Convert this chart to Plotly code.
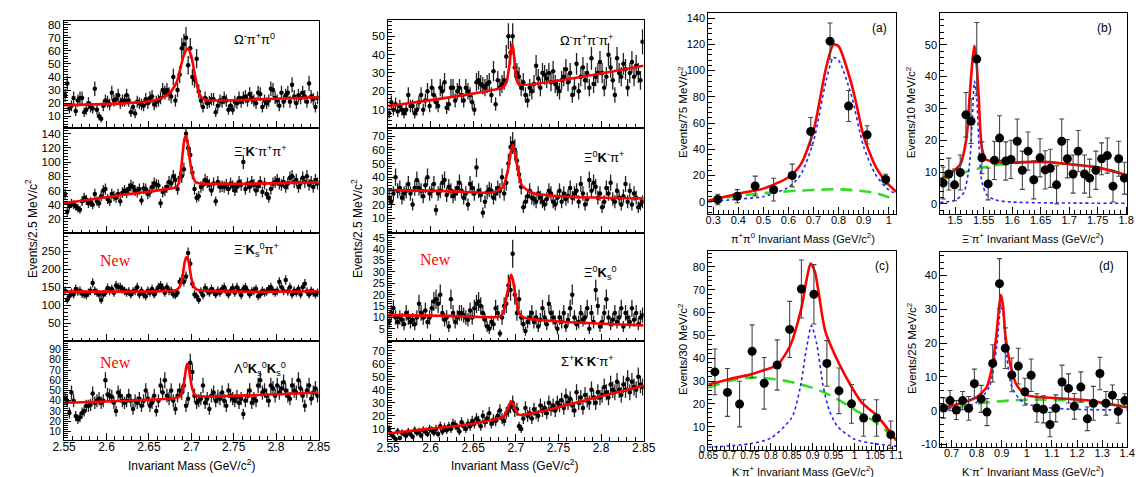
import numpy as np
import plotly.graph_objects as go

W, H = 1143, 477

# ---------------- stacked spectra: 2.5 MeV bins from 2.55 to 2.85 GeV ----------------
MASS_MIN, BIN_W = 2.55, 0.0025

omega_pi_pi0 = [
    26, 35, 16, 18, 24, 14, 22, 24, 24, 13, 15, 20, 17, 16, 31, 15, 10, 8, 18, 22,
    21, 19, 28, 22, 23, 26, 20, 22, 22, 26, 22, 13, 17, 12, 21, 20, 19, 18, 23, 20,
    24, 25, 19, 21, 22, 24, 30, 28, 30, 27, 25, 40, 22, 30, 42, 62, 65, 70, 49, 62,
    40, 38, 54, 29, 22, 17, 24, 20, 21, 23, 23, 13, 18, 22, 21, 24, 22, 15, 18, 15,
    21, 20, 24, 21, 24, 25, 22, 27, 24, 22, 20, 28, 27, 17, 22, 20, 22, 31, 30, 24,
    22, 18, 28, 21, 26, 28, 21, 34, 25, 20, 26, 24, 28, 25, 21, 35, 25, 23, 17, 24]
xi_k_pi_pi = [
    55, 30, 38, 42, 40, 38, 35, 33, 45, 50, 47, 42, 44, 40, 55, 45, 42, 52, 60, 62,
    48, 45, 55, 52, 50, 55, 45, 57, 60, 57, 62, 67, 65, 60, 58, 62, 46, 63, 62, 55,
    58, 65, 70, 68, 67, 42, 58, 60, 65, 72, 70, 80, 75, 62, 78, 80, 90, 140, 120, 110,
    85, 62, 50, 52, 65, 68, 75, 72, 68, 60, 70, 45, 72, 65, 66, 65, 68, 62, 70, 66,
    60, 65, 72, 68, 100, 62, 70, 65, 72, 68, 60, 66, 72, 58, 70, 55, 50, 62, 70, 72,
    75, 70, 68, 72, 65, 70, 78, 80, 72, 75, 65, 70, 78, 72, 80, 68, 72, 65, 75, 70]
xi_ks_pi = [
    140, 115, 125, 135, 130, 145, 138, 140, 132, 130, 128, 135, 140, 162, 140, 135, 130, 115, 130, 135,
    148, 140, 145, 135, 155, 150, 150, 145, 140, 135, 138, 130, 138, 140, 150, 130, 140, 130, 125, 140,
    135, 145, 130, 140, 150, 155, 148, 135, 150, 140, 140, 130, 128, 135, 165, 170, 165, 180, 245, 215,
    160, 130, 125, 115, 138, 128, 148, 140, 135, 145, 138, 130, 140, 135, 145, 150, 138, 130, 140, 148,
    135, 150, 140, 128, 145, 150, 140, 130, 138, 140, 145, 125, 130, 140, 135, 138, 145, 150, 140, 135,
    140, 165, 150, 140, 170, 138, 150, 130, 140, 135, 145, 130, 150, 160, 138, 130, 140, 135, 130, 135]
lam_ks_ks = [
    42, 40, 28, 48, 40, 25, 22, 24, 28, 30, 35, 35, 36, 47, 38, 40, 42, 38, 40, 60,
    46, 45, 44, 38, 30, 48, 45, 40, 38, 40, 45, 40, 32, 40, 38, 42, 35, 40, 50, 42,
    35, 38, 45, 30, 40, 55, 48, 60, 45, 42, 50, 40, 32, 45, 50, 48, 55, 35, 42, 77,
    68, 45, 38, 40, 42, 55, 38, 42, 32, 45, 48, 40, 44, 42, 48, 40, 35, 50, 45, 42,
    40, 44, 38, 42, 27, 40, 45, 50, 38, 42, 40, 55, 60, 48, 50, 45, 40, 55, 52, 45,
    55, 48, 52, 58, 50, 45, 42, 55, 50, 48, 60, 52, 45, 35, 50, 55, 42, 48, 52, 45]
omega_3pi = [
    8, 14, 10, 13, 9, 12, 10, 8, 10, 18, 12, 12, 8, 10, 14, 18, 10, 15, 20, 12,
    22, 18, 14, 12, 22, 20, 25, 11, 13, 22, 22, 15, 20, 22, 18, 15, 22, 20, 18, 14,
    10, 25, 26, 24, 23, 22, 24, 25, 18, 31, 13, 26, 22, 24, 26, 39, 50, 41, 50, 33,
    30, 28, 22, 25, 18, 15, 22, 20, 24, 34, 27, 22, 30, 29, 27, 30, 25, 31, 24, 22,
    20, 26, 28, 32, 25, 30, 18, 22, 35, 20, 28, 33, 26, 30, 22, 38, 24, 28, 30, 36,
    30, 22, 28, 40, 33, 26, 18, 38, 30, 28, 35, 32, 22, 30, 36, 28, 34, 30, 26, 47]
xi0_k_pi = [
    25, 22, 28, 40, 30, 32, 25, 28, 30, 35, 28, 20, 32, 38, 32, 30, 26, 34, 40, 28,
    30, 35, 16, 28, 30, 36, 38, 27, 33, 30, 26, 28, 32, 36, 30, 25, 28, 20, 35, 32,
    28, 47, 30, 27, 14, 22, 29, 31, 30, 25, 28, 32, 30, 40, 28, 36, 50, 62, 65, 60,
    52, 42, 33, 18, 22, 26, 30, 25, 24, 22, 28, 25, 22, 20, 24, 30, 28, 22, 20, 25,
    30, 22, 28, 24, 26, 32, 25, 28, 30, 22, 35, 28, 20, 24, 38, 30, 36, 33, 25, 28,
    18, 22, 32, 28, 36, 24, 22, 30, 25, 20, 26, 35, 22, 30, 20, 28, 25, 18, 20, 22]
xi0_ks = [
    8, 12, 14, 10, 8, 10, 9, 7, 12, 10, 8, 9, 7, 10, 16, 12, 10, 13, 8, 10,
    14, 17, 18, 16, 20, 12, 9, 10, 6, 18, 12, 8, 10, 12, 12, 11, 10, 9, 13, 10,
    14, 16, 17, 15, 12, 9, 6, 5, 8, 7, 14, 12, 3, 10, 15, 16, 24, 22, 38, 20,
    12, 18, 10, 7, 4, 8, 10, 12, 8, 10, 6, 9, 14, 10, 7, 16, 12, 10, 8, 5,
    10, 8, 12, 6, 9, 14, 20, 10, 7, 8, 12, 9, 10, 14, 5, 12, 8, 22, 15, 6,
    8, 12, 18, 10, 7, 9, 12, 8, 10, 14, 6, 12, 10, 8, 14, 9, 12, 7, 10, 11]
sigma_kk_pi = [
    10, 6, 4, 2, 8, 3, 7, 6, 5, 8, 6, 4, 9, 7, 8, 5, 9, 8, 6, 10,
    9, 7, 10, 6, 12, 8, 11, 9, 12, 10, 14, 13, 11, 8, 15, 12, 10, 14, 12, 16,
    14, 18, 16, 12, 20, 15, 18, 22, 14, 17, 16, 20, 24, 18, 16, 22, 24, 27, 30, 24,
    25, 12, 10, 18, 26, 20, 22, 18, 25, 22, 20, 28, 24, 26, 22, 30, 25, 28, 24, 30,
    28, 32, 26, 35, 30, 33, 28, 24, 38, 30, 34, 26, 36, 32, 30, 40, 34, 30, 38, 34,
    36, 42, 38, 34, 44, 40, 38, 46, 40, 36, 44, 40, 48, 38, 46, 42, 40, 50, 44, 42]

# fitted curves (knots)
fit_omega_pi_pi0_x = [2.55, 2.62, 2.656, 2.667, 2.675, 2.6827, 2.6865, 2.6904, 2.6942, 2.6962, 2.70, 2.7038, 2.7077, 2.7115, 2.7173, 2.73, 2.85]
fit_omega_pi_pi0_y = [18.5, 19.8, 22, 24.6, 28, 36, 45, 55, 61, 61.6, 56, 43, 31, 24.6, 22.5, 22, 24.5]
fit_xi_k_pi_pi_x = [2.55, 2.62, 2.68, 2.684, 2.687, 2.690, 2.692, 2.694, 2.696, 2.699, 2.702, 2.705, 2.71, 2.85]
fit_xi_k_pi_pi_y = [42, 54, 64, 67, 80, 115, 133, 137, 124, 97, 80, 72, 70, 71.5]
fit_xi_ks_pi_x = [2.55, 2.68, 2.684, 2.687, 2.690, 2.692, 2.694, 2.696, 2.698, 2.700, 2.703, 2.707, 2.85]
fit_xi_ks_pi_y = [138, 141, 145, 155, 185, 218, 234, 228, 205, 175, 152, 143, 139]
fit_lam_ks_ks_x = [2.55, 2.68, 2.686, 2.689, 2.6915, 2.6935, 2.695, 2.6965, 2.6985, 2.701, 2.704, 2.708, 2.85]
fit_lam_ks_ks_y = [38, 42.5, 44, 48, 58, 70, 76, 74, 64, 52, 46, 44.5, 48]
fit_omega_3pi_x = [2.55, 2.685, 2.689, 2.692, 2.694, 2.6955, 2.697, 2.699, 2.701, 2.704, 2.85]
fit_omega_3pi_y = [12, 22.3, 25, 33, 42, 45.5, 43, 33, 26, 23.7, 34]
fit_xi0_k_pi_x = [2.55, 2.62, 2.673, 2.685, 2.6905, 2.694, 2.6963, 2.699, 2.702, 2.707, 2.719, 2.76, 2.85]
fit_xi0_k_pi_y = [30.5, 29.8, 28.8, 32.9, 44.8, 58, 63.5, 57, 47, 34, 28.6, 25.7, 24.5]
fit_xi0_ks_x = [2.55, 2.62, 2.68, 2.6848, 2.6895, 2.6925, 2.6944, 2.6965, 2.6994, 2.702, 2.704, 2.709, 2.72, 2.76, 2.85]
fit_xi0_ks_y = [11, 10.7, 10.3, 11.8, 19.8, 26, 28.7, 26.5, 19.8, 14.5, 11.8, 10, 9.2, 8, 6.5]
fit_sigma_kk_pi_x = [2.55, 2.60, 2.65, 2.677, 2.685, 2.689, 2.692, 2.6944, 2.697, 2.70, 2.703, 2.706, 2.73, 2.758, 2.80, 2.85]
fit_sigma_kk_pi_y = [6.5, 10.2, 14, 17.6, 19, 23, 28, 31, 29, 24, 21, 20.6, 23.5, 28, 35, 43]

# ---------------- panel (a): pi+ pi0 ----------------
a_x = [0.318, 0.396, 0.467, 0.541, 0.615, 0.689, 0.766, 0.84, 0.914, 0.988]
a_y = [1.7, 4.2, 12, 9.2, 20, 53.6, 122.5, 73, 51, 17]
a_err = [4, 5, 7.5, 8.7, 8.7, 10.6, 13.8, 11.8, 7, 4]
a_tot_x = [0.28, 0.30, 0.40, 0.50, 0.60, 0.65, 0.70, 0.75, 0.78, 0.80, 0.85, 0.875, 0.90, 0.95, 1.0, 1.03]
a_tot_y = [1, 1.7, 6.2, 10, 18.7, 28.7, 54, 102, 120, 118.6, 91, 71, 50, 26, 13, 7.5]
a_sig_x = [0.28, 0.30, 0.40, 0.50, 0.60, 0.65, 0.70, 0.75, 0.78, 0.80, 0.85, 0.90, 0.95, 1.0, 1.03]
a_sig_y = [0, 0.3, 2, 4, 11, 21, 46, 92, 110, 108, 82, 42, 20, 9, 6]
a_bkg_x = [0.28, 0.30, 0.40, 0.50, 0.60, 0.70, 0.80, 0.90, 0.95, 1.0, 1.03]
a_bkg_y = [0, 1, 4.5, 6.5, 8, 9, 9.5, 8, 6.5, 3.5, 1.5]

# ---------------- panel (b): Xi- pi+ ----------------
b_x = [1.479, 1.489, 1.499, 1.509, 1.519, 1.528, 1.538, 1.547, 1.558, 1.569, 1.578, 1.589, 1.598,
       1.609, 1.618, 1.628, 1.638, 1.649, 1.658, 1.667, 1.678, 1.687, 1.697, 1.707, 1.716, 1.727,
       1.736, 1.747, 1.757, 1.767, 1.777, 1.787, 1.797]
b_y = [6.6, 9.4, 6, 9.9, 28, 26, 45.5, 14.5, 6.3, 13.7, 20.7, 13.5, 14, 19.7, 10.6, 16.6, 7.6,
       14.5, 10.7, 11.2, 6, 19.7, 14.2, 9.4, 16.6, 9.4, 8.1, 10.6, 14.2, 15.2, 5.6, 14.2, 8.1]
b_err = [5, 5, 5, 5.5, 7, 7, 11.5, 5, 5, 6, 7, 6, 6, 7, 6, 6, 6, 6, 6, 6, 6, 7, 6, 6, 6.5, 6,
         6, 6, 5, 5.5, 5, 5.5, 5]
b_tot_x = [1.474, 1.49, 1.509, 1.52, 1.526, 1.531, 1.534, 1.537, 1.541, 1.547, 1.554, 1.57, 1.60, 1.65, 1.70, 1.75, 1.802]
b_tot_y = [7.8, 9.4, 12.4, 20.7, 35, 46, 49.7, 46, 35, 17.6, 14, 13.2, 13, 13.3, 12.5, 11.5, 9]
b_sig_x = [1.474, 1.50, 1.515, 1.525, 1.53, 1.534, 1.538, 1.542, 1.547, 1.555, 1.57, 1.60, 1.70, 1.802]
b_sig_y = [0.5, 1.2, 3.5, 12, 26, 38.5, 33, 18, 7, 3, 1.3, 0.6, 0.3, 0.2]
b_bkg_x = [1.474, 1.50, 1.55, 1.60, 1.65, 1.70, 1.75, 1.802]
b_bkg_y = [7.5, 9, 11.5, 12.8, 13.2, 12.5, 11.5, 9]

# ---------------- panel (c): K- pi+ ----------------
c_x = [0.666, 0.696, 0.725, 0.755, 0.784, 0.815, 0.845, 0.873, 0.903, 0.934, 0.963, 0.993, 1.022, 1.053, 1.087]
c_y = [34, 25, 19.9, 43, 29, 37, 52.6, 70.3, 68, 37.7, 25.7, 20, 13.8, 13.8, 6.5]
c_err = [10, 10.5, 10, 11.6, 11.3, 11, 12.3, 12.7, 13, 10, 10, 8.5, 8, 8, 6]
c_tot_x = [0.65, 0.70, 0.75, 0.784, 0.815, 0.845, 0.873, 0.885, 0.895, 0.905, 0.915, 0.93, 0.963, 0.993, 1.018, 1.053, 1.1]
c_tot_y = [28.5, 30.8, 32.8, 34.8, 37, 45, 62, 74, 81.5, 78, 68, 52, 37.7, 27.5, 20.4, 15, 4]
c_sig_x = [0.65, 0.75, 0.80, 0.85, 0.87, 0.885, 0.897, 0.91, 0.925, 0.94, 0.96, 1.0, 1.05, 1.1]
c_sig_y = [1, 2.5, 5, 14, 27, 44, 54.3, 46, 28, 17, 10, 4.5, 2.5, 1.5]
c_bkg_x = [0.65, 0.70, 0.75, 0.80, 0.85, 0.90, 0.95, 1.0, 1.05, 1.1]
c_bkg_y = [27, 30, 31.5, 31, 29.5, 27, 23, 17.5, 12, 4.5]

# ---------------- panel (d): K- pi+ ----------------
d_x = [0.668, 0.694, 0.719, 0.744, 0.768, 0.791, 0.818, 0.841, 0.864, 0.891, 0.914, 0.94, 0.966,
       0.992, 1.017, 1.04, 1.066, 1.092, 1.115, 1.14, 1.166, 1.189, 1.215, 1.241, 1.265, 1.291,
       1.315, 1.341, 1.364, 1.39]
d_y = [0.8, 3, 0.2, 3, 0.7, 8, 3.5, -0.4, 14, 37.6, 18.5, 10.6, 13.2, 5.6, 10.5, 0.8, 0.4, -4.1,
       0.7, 8.5, 6.6, 1.3, 7, -2.4, 2.2, 11, 2.2, 4.6, -0.2, 3]
d_err = [3, 3, 2.8, 2.7, 3.5, 4.3, 4, 4, 5.5, 7.4, 6, 5, 5.3, 4, 4.8, 4.2, 4, 3.6, 4, 5, 4.3,
         3.8, 4.5, 3.5, 5, 4.8, 3.5, 3, 3.5, 2]
d_tot_x = [0.655, 0.70, 0.75, 0.80, 0.84, 0.864, 0.878, 0.89, 0.897, 0.905, 0.915, 0.935, 0.96, 1.0, 1.127, 1.26, 1.4]
d_tot_y = [0.8, 1.5, 2.5, 4, 7, 13.8, 22, 31, 34.3, 31, 22, 13.3, 7.5, 4.6, 3.7, 2.9, 1]
d_sig_x = [0.655, 0.75, 0.80, 0.85, 0.88, 0.897, 0.905, 0.92, 0.94, 0.97, 1.0, 1.1, 1.2, 1.4]
d_sig_y = [0.5, 1, 2.5, 7, 19, 31.5, 29, 16, 7, 3.5, 2, 0.8, 0.4, 0.2]
d_bkg_x = [0.655, 0.75, 0.85, 0.95, 1.05, 1.15, 1.25, 1.4]
d_bkg_y = [0.5, 1.5, 2.5, 3.1, 3.3, 3.1, 2.6, 1.2]

# tick labels
mass_ticks = [2.55, 2.6, 2.65, 2.7, 2.75, 2.8, 2.85]
mass_ticktext = ["2.55", "2.6", "2.65", "2.7", "2.75", "2.8", "2.85"]
a_xticks = [0.3, 0.4, 0.5, 0.6, 0.7, 0.8, 0.9, 1.0]
a_xtext = ["0.3", "0.4", "0.5", "0.6", "0.7", "0.8", "0.9", "1"]
b_xticks = [1.5, 1.55, 1.6, 1.65, 1.7, 1.75, 1.8]
b_xtext = ["1.5", "1.55", "1.6", "1.65", "1.7", "1.75", "1.8"]
c_xticks = [0.65, 0.7, 0.75, 0.8, 0.85, 0.9, 0.95, 1.0, 1.05, 1.1]
c_xtext = ["0.65", "0.7", "0.75", "0.8", "0.85", "0.9", "0.95", "1", "1.05", "1.1"]
d_xticks = [0.7, 0.8, 0.9, 1.0, 1.1, 1.2, 1.3, 1.4]
d_xtext = ["0.7", "0.8", "0.9", "1", "1.1", "1.2", "1.3", "1.4"]

FONT = "Liberation Sans, Arial, Helvetica, sans-serif"
RED, BLUE, GREEN = "#ff0000", "#2222ff", "#33dd22"

fig = go.Figure()
layout = {}


def ref(k):
    return ("x" if k == 1 else f"x{k}"), ("y" if k == 1 else f"y{k}")


def add_axes(k, xpx, ypx, xr, yr, xt, xtt, yt, show_x, xminor, yminor, xfs=12, yfs=11.5):
    xa = dict(domain=[xpx[0] / W, xpx[1] / W], range=xr, anchor=ref(k)[1],
              tickmode="array", tickvals=xt, ticktext=xtt, showticklabels=show_x,
              ticks="inside", ticklen=7, tickwidth=1, tickcolor="black",
              ticklabelstandoff=-4,
              showline=True, linecolor="black", linewidth=1, mirror=True,
              showgrid=False, zeroline=False,
              tickfont=dict(family=FONT, size=xfs, color="black"),
              minor=dict(ticks="inside", ticklen=3.5, tickcolor="black", tickmode="linear",
                         tick0=xt[0], dtick=xminor, showgrid=False))
    ya = dict(domain=[1 - ypx[1] / H, 1 - ypx[0] / H], range=yr, anchor=ref(k)[0],
              tickmode="array", tickvals=yt, ticktext=[str(v) for v in yt],
              ticks="inside", ticklen=7, tickwidth=1, tickcolor="black",
              showline=True, linecolor="black", linewidth=1, mirror=True,
              showgrid=False, zeroline=False,
              tickfont=dict(family=FONT, size=yfs, color="black"),
              minor=dict(ticks="inside", ticklen=3.5, tickcolor="black", tickmode="linear",
                         tick0=yt[0], dtick=yminor, showgrid=False))
    layout["xaxis" if k == 1 else f"xaxis{k}"] = xa
    layout["yaxis" if k == 1 else f"yaxis{k}"] = ya


def add_hist(k, counts, fx, fy):
    xr_, yr_ = ref(k)
    c = np.array(counts, dtype=float)
    x = MASS_MIN + BIN_W * (np.arange(len(c)) + 0.5)
    fig.add_trace(go.Scatter(x=x, y=c, mode="markers", xaxis=xr_, yaxis=yr_,
                             marker=dict(color="black", size=4.5),
                             error_y=dict(type="data", array=np.sqrt(np.maximum(c, 1)),
                                          color="#222222", thickness=1.3, width=0),
                             showlegend=False, hoverinfo="skip"))
    fig.add_trace(go.Scatter(x=fx, y=fy, mode="lines", xaxis=xr_, yaxis=yr_,
                             line=dict(color=RED, width=2.6, shape="spline", smoothing=0.6),
                             showlegend=False, hoverinfo="skip"))


def add_fit_panel(k, px, py, pe, tx, ty, sx, sy, bx, by):
    xr_, yr_ = ref(k)
    fig.add_trace(go.Scatter(x=bx, y=by, mode="lines", xaxis=xr_, yaxis=yr_,
                             line=dict(color=GREEN, width=2.6, dash="12px,7px", shape="spline"),
                             showlegend=False, hoverinfo="skip"))
    fig.add_trace(go.Scatter(x=sx, y=sy, mode="lines", xaxis=xr_, yaxis=yr_,
                             line=dict(color=BLUE, width=1.6, dash="dot", shape="spline", smoothing=0.7),
                             showlegend=False, hoverinfo="skip"))
    fig.add_trace(go.Scatter(x=tx, y=ty, mode="lines", xaxis=xr_, yaxis=yr_,
                             line=dict(color=RED, width=2.6, shape="spline", smoothing=0.7),
                             showlegend=False, hoverinfo="skip"))
    fig.add_trace(go.Scatter(x=px, y=py, mode="markers", xaxis=xr_, yaxis=yr_,
                             marker=dict(color="black", size=9),
                             error_y=dict(type="data", array=pe, color="#444444",
                                          thickness=1.1, width=2.5),
                             showlegend=False, hoverinfo="skip"))


LX, MX = (45, 305), (376, 637)
ROWS = [(11, 120), (120, 227), (227, 337), (337, 437)]
MR = [(10, 120), (120, 227), (227, 337), (337, 438)]

# left column
add_axes(1, LX, ROWS[0], [2.55, 2.85], [1, 83], mass_ticks, mass_ticktext, [10, 20, 30, 40, 50, 60, 70, 80], False, 0.01, 2)
add_axes(2, LX, ROWS[1], [2.55, 2.85], [0, 148], mass_ticks, mass_ticktext, [20, 40, 60, 80, 100, 120, 140], False, 0.01, 4)
add_axes(3, LX, ROWS[2], [2.55, 2.85], [0, 300], mass_ticks, mass_ticktext, [50, 100, 150, 200, 250], False, 0.01, 10)
add_axes(4, LX, ROWS[3], [2.55, 2.85], [2, 98], mass_ticks, mass_ticktext, [10, 20, 30, 40, 50, 60, 70, 80, 90], True, 0.01, 2, yfs=10.5)
# middle column
add_axes(5, MX, MR[0], [2.55, 2.85], [0, 59], mass_ticks, mass_ticktext, [10, 20, 30, 40, 50], False, 0.01, 2)
add_axes(6, MX, MR[1], [2.55, 2.85], [-1, 76], mass_ticks, mass_ticktext, [10, 20, 30, 40, 50, 60, 70], False, 0.01, 2)
add_axes(7, MX, MR[2], [2.55, 2.85], [-0.5, 47], mass_ticks, mass_ticktext, [5, 10, 15, 20, 25, 30, 35, 40, 45], False, 0.01, 1, yfs=11)
add_axes(8, MX, MR[3], [2.55, 2.85], [1, 77], mass_ticks, mass_ticktext, [10, 20, 30, 40, 50, 60, 70], True, 0.01, 2)
# right panels
add_axes(9, (703, 895), (3, 207), [0.28, 1.03], [-9, 144], a_xticks, a_xtext, [0, 20, 40, 60, 80, 100, 120, 140], True, 0.02, 4, xfs=11, yfs=11)
add_axes(10, (940, 1131), (3, 207), [1.474, 1.802], [-3, 60], b_xticks, b_xtext, [0, 10, 20, 30, 40, 50], True, 0.01, 2, xfs=11, yfs=11)
add_axes(11, (703, 895), (245, 447), [0.65, 1.1], [0, 87], c_xticks, c_xtext, [0, 10, 20, 30, 40, 50, 60, 70, 80], True, 0.01, 2, xfs=10, yfs=11)
add_axes(12, (940, 1131), (246, 444), [0.655, 1.4], [-10.6, 47], d_xticks, d_xtext, [-10, 0, 10, 20, 30, 40], True, 0.02, 2, xfs=11, yfs=11)

add_hist(1, omega_pi_pi0, fit_omega_pi_pi0_x, fit_omega_pi_pi0_y)
add_hist(2, xi_k_pi_pi, fit_xi_k_pi_pi_x, fit_xi_k_pi_pi_y)
add_hist(3, xi_ks_pi, fit_xi_ks_pi_x, fit_xi_ks_pi_y)
add_hist(4, lam_ks_ks, fit_lam_ks_ks_x, fit_lam_ks_ks_y)
add_hist(5, omega_3pi, fit_omega_3pi_x, fit_omega_3pi_y)
add_hist(6, xi0_k_pi, fit_xi0_k_pi_x, fit_xi0_k_pi_y)
add_hist(7, xi0_ks, fit_xi0_ks_x, fit_xi0_ks_y)
add_hist(8, sigma_kk_pi, fit_sigma_kk_pi_x, fit_sigma_kk_pi_y)

add_fit_panel(9, a_x, a_y, a_err, a_tot_x, a_tot_y, a_sig_x, a_sig_y, a_bkg_x, a_bkg_y)
add_fit_panel(10, b_x, b_y, b_err, b_tot_x, b_tot_y, b_sig_x, b_sig_y, b_bkg_x, b_bkg_y)
add_fit_panel(11, c_x, c_y, c_err, c_tot_x, c_tot_y, c_sig_x, c_sig_y, c_bkg_x, c_bkg_y)
add_fit_panel(12, d_x, d_y, d_err, d_tot_x, d_tot_y, d_sig_x, d_sig_y, d_bkg_x, d_bkg_y)

ann = []


def note(px, py, text, size=12, angle=0, color="black", family=FONT, xanchor="center"):
    ann.append(dict(x=px / W, y=1 - py / H, xref="paper", yref="paper", text=text,
                    showarrow=False, textangle=angle, xanchor=xanchor, yanchor="middle",
                    font=dict(family=family, size=size, color=color)))


# channel labels
note(217, 29, "Ω<sup>-</sup>π<sup>+</sup>π<sup>0</sup>", 13, xanchor="left")
note(217, 143, "Ξ<sup>-</sup><b>K</b><sup>-</sup>π<sup>+</sup>π<sup>+</sup>", 13, xanchor="left")
note(217, 244, "Ξ<sup>-</sup><b>K</b><sub>s</sub><sup>0</sup>π<sup>+</sup>", 13, xanchor="left")
note(217, 365, "Λ<sup>0</sup><b>K</b><sub>s</sub><sup>0</sup><b>K</b><sub>s</sub><sup>0</sup>", 13, xanchor="left")
note(550, 31, "Ω<sup>-</sup>π<sup>+</sup>π<sup>-</sup>π<sup>+</sup>", 13, xanchor="left")
note(574, 150, "Ξ<sup>0</sup><b>K</b><sup>-</sup>π<sup>+</sup>", 13, xanchor="left")
note(574, 267, "Ξ<sup>0</sup><b>K</b><sub>s</sub><sup>0</sup>", 13, xanchor="left")
note(551, 357, "Σ<sup>+</sup><b>K</b><sup>-</sup><b>K</b><sup>-</sup>π<sup>+</sup>", 13, xanchor="left")
# New
SERIF = "Liberation Serif, Times New Roman, serif"
note(98, 255, "New", 16, color=RED, family=SERIF)
note(98, 359, "New", 16, color=RED, family=SERIF)
note(424, 254, "New", 16, color=RED, family=SERIF)
# panel letters
note(878, 18, "(a)", 12)
note(1108, 18, "(b)", 12)
note(880, 260, "(c)", 12)
note(1110, 260, "(d)", 12)
# axis titles
note(12, 222, "Events/2.5 MeV/c<sup>2</sup>", 12, angle=-90)
note(344, 222, "Events/2.5 MeV/c<sup>2</sup>", 12, angle=-90)
note(175, 463, "Invariant Mass (GeV/c<sup>2</sup>)", 12)
note(505, 463, "Invariant Mass (GeV/c<sup>2</sup>)", 12)
note(677, 104, "Events/75 MeV/c<sup>2</sup>", 11.5, angle=-90)
note(910, 104, "Events/10 MeV/c<sup>2</sup>", 11.5, angle=-90)
note(677, 345, "Events/30 MeV/c<sup>2</sup>", 11.5, angle=-90)
note(911, 344, "Events/25 MeV/c<sup>2</sup>", 11.5, angle=-90)
note(800, 232, "π<sup>+</sup>π<sup>0</sup> Invariant Mass (GeV/c<sup>2</sup>)", 11)
note(1035, 232, "Ξ<sup>-</sup>π<sup>+</sup> Invariant Mass (GeV/c<sup>2</sup>)", 11)
note(800, 469, "K<sup>-</sup>π<sup>+</sup> Invariant Mass (GeV/c<sup>2</sup>)", 11)
note(1035, 469, "K<sup>-</sup>π<sup>+</sup> Invariant Mass (GeV/c<sup>2</sup>)", 11)

fig.update_layout(width=W, height=H, margin=dict(l=0, r=0, t=0, b=0),
                  paper_bgcolor="white", plot_bgcolor="white", showlegend=False,
                  annotations=ann, **layout)

fig.write_html("out.html")
